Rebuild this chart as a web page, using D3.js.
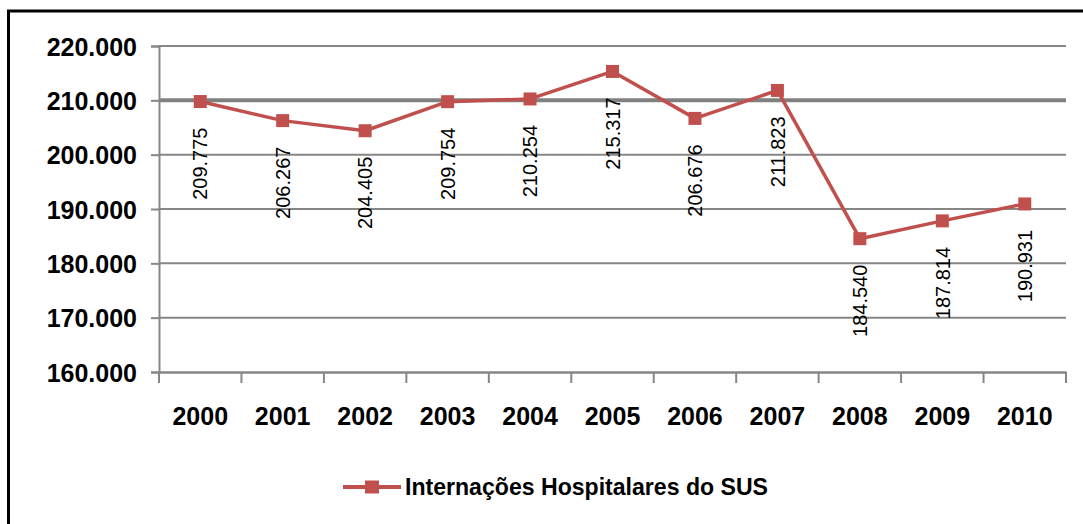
<!DOCTYPE html>
<html><head><meta charset="utf-8">
<script src="https://cdn.jsdelivr.net/npm/d3@7"></script>
<style>html,body{margin:0;padding:0;background:#fff;}svg{display:block;}</style>
</head><body>
<script>
const years = ["2000","2001","2002","2003","2004","2005","2006","2007","2008","2009","2010"];
const values = [209775, 206267, 204405, 209754, 210254, 215317, 206676, 211823, 184540, 187814, 190931];
const yTicks = [160000, 170000, 180000, 190000, 200000, 210000, 220000];
const seriesName = "Internações Hospitalares do SUS";

const W = 1083, H = 524;
const red = "#C0504D", grid = "#868686";
const loc = d3.formatLocale({decimal: ",", thousands: ".", grouping: [3], currency: ["", ""]});
const fmt = loc.format(",d");

const svg = d3.select("body").append("svg").attr("width", W).attr("height", H);
svg.append("rect").attr("width", W).attr("height", H).attr("fill", "#fff");
svg.append("rect").attr("x", 8.5).attr("y", 11).attr("width", 1200).attr("height", 700)
  .attr("fill", "none").attr("stroke", "#000").attr("stroke-width", 3);

const x = d3.scaleBand().domain(years).range([159, 1066]);
const y = d3.scaleLinear().domain([160000, 220000]).range([372, 46]);

// gridlines
svg.append("g").selectAll("line").data(yTicks.filter(d => d !== 160000)).join("line")
  .attr("x1", 159).attr("x2", 1066).attr("y1", d => y(d)).attr("y2", d => y(d))
  .attr("stroke", d => d === 210000 ? "#808080" : grid)
  .attr("stroke-width", d => d === 210000 ? 4 : 2);

// y axis
const ya = svg.append("g").attr("transform", "translate(159,0)")
  .call(d3.axisLeft(y).tickValues(yTicks).tickSize(8).tickPadding(14).tickFormat(fmt));
ya.select(".domain").attr("stroke", grid).attr("stroke-width", 2);
ya.selectAll(".tick line").attr("stroke", grid).attr("stroke-width", 2);
ya.selectAll(".tick text").attr("font-family", "Liberation Sans, Arial, sans-serif")
  .attr("font-weight", "bold").attr("font-size", 25).attr("fill", "#000").attr("dy", "0.36em");

// x axis
const xa = svg.append("g").attr("transform", "translate(0,372)")
  .call(d3.axisBottom(x).tickSize(0).tickPadding(44));
xa.select(".domain").attr("stroke", grid).attr("stroke-width", 2.5);
xa.selectAll(".tick text").attr("font-family", "Liberation Sans, Arial, sans-serif")
  .attr("font-weight", "bold").attr("font-size", 25).attr("fill", "#000").attr("dy", "0.35em");
// boundary ticks
const bounds = years.map(d => x(d)).concat([x(years[years.length - 1]) + x.bandwidth()]);
svg.append("g").selectAll("line").data(bounds).join("line")
  .attr("x1", d => d).attr("x2", d => d).attr("y1", 372).attr("y2", 383)
  .attr("stroke", grid).attr("stroke-width", 2);

const cx = d => x(d) + x.bandwidth() / 2;
const pts = years.map((yr, i) => ({yr, v: values[i]}));

// line
svg.append("path").datum(pts)
  .attr("d", d3.line().x(d => cx(d.yr)).y(d => y(d.v)))
  .attr("fill", "none").attr("stroke", red).attr("stroke-width", 3.5).attr("stroke-linejoin", "round");

// markers
const ms = 13;
svg.append("g").selectAll("rect").data(pts).join("rect")
  .attr("x", d => cx(d.yr) - ms / 2).attr("y", d => y(d.v) - ms / 2)
  .attr("width", ms).attr("height", ms).attr("fill", red);

// data labels
svg.append("g").selectAll("text").data(pts).join("text")
  .attr("transform", d => `translate(${cx(d.yr)},${y(d.v) + 26}) rotate(-90)`)
  .attr("text-anchor", "end").attr("dy", "0.36em")
  .attr("font-family", "Liberation Sans, Arial, sans-serif").attr("font-size", 20).attr("fill", "#000")
  .text(d => fmt(d.v));

// legend
const lg = svg.append("g");
lg.append("line").attr("x1", 343).attr("x2", 401).attr("y1", 487).attr("y2", 487)
  .attr("stroke", red).attr("stroke-width", 4);
lg.append("rect").attr("x", 372 - 7).attr("y", 487 - 6.5).attr("width", 14).attr("height", 13).attr("fill", red);
lg.append("text").attr("x", 405).attr("y", 495)
  .attr("font-family", "Liberation Sans, Arial, sans-serif").attr("font-weight", "bold").attr("font-size", 24)
  .attr("textLength", 363).attr("lengthAdjust", "spacingAndGlyphs").attr("fill", "#000")
  .text(seriesName);
</script>
</body></html>
